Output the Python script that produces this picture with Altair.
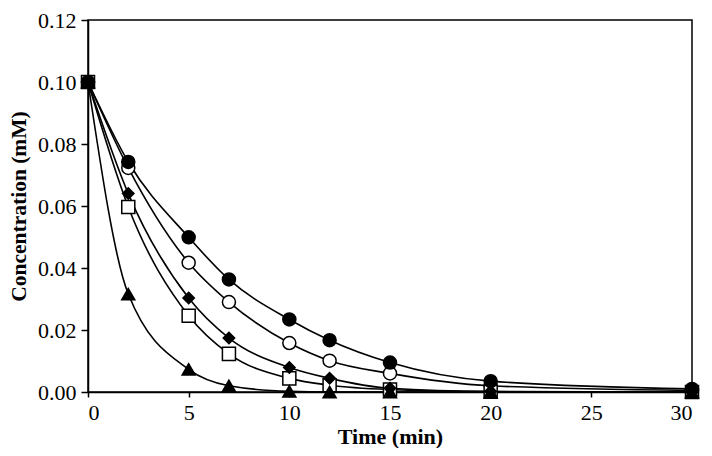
import altair as alt
import pandas as pd

time = [0, 2, 5, 7, 10, 12, 15, 20, 30]
s_fcircle = [0.100, 0.0742, 0.0499, 0.0363, 0.0234, 0.0167, 0.0095, 0.0035, 0.0010]
s_ocircle = [0.100, 0.0723, 0.0417, 0.0290, 0.0158, 0.0101, 0.0060, 0.0020, 0.0005]
s_diamond = [0.100, 0.0640, 0.0303, 0.0174, 0.0079, 0.0044, 0.0012, 0.0002, 0.0000]
s_square = [0.100, 0.0597, 0.0246, 0.0123, 0.0044, 0.0022, 0.0008, 0.0001, 0.0000]
s_triangle = [0.100, 0.0316, 0.0073, 0.0020, 0.0002, 0.0000, 0.0000, 0.0000, 0.0000]
x_ticks = [0, 5, 10, 15, 20, 25, 30]
y_ticks = [0, 0.02, 0.04, 0.06, 0.08, 0.10, 0.12]

series = [
    ("B", s_ocircle, "circle", "white"),
    ("D", s_square, "square", "white"),
    ("A", s_fcircle, "circle", "black"),
    ("C", s_diamond, "diamond", "black"),
    ("E", s_triangle, "triangle-up", "black"),
]

rows = []
for name, vals, shape, fill in series:
    for t, v in zip(time, vals):
        rows.append({"t": t, "c": v, "s": name})
df = pd.DataFrame(rows)

font = "Liberation Serif"
xs = alt.Scale(domain=[0, 30], nice=False)
ys = alt.Scale(domain=[0, 0.12], nice=False)

lines = alt.Chart(df).mark_line(color="black", strokeWidth=1.6, interpolate="monotone").encode(
    x=alt.X("t:Q", scale=xs, title="Time (min)",
            axis=alt.Axis(values=x_ticks, tickSize=5, tickWidth=1.5, labelPadding=5,
                          domainWidth=1.5, titlePadding=3, titleFontSize=22)),
    y=alt.Y("c:Q", scale=ys, title="Concentration (mM)",
            axis=alt.Axis(values=y_ticks, format=".2f",
                          tickSize=7, tickWidth=1.5, labelPadding=5, domainWidth=1.5,
                          titlePadding=7, titleFontSize=21.5)),
    detail="s:N",
)

layers = [lines]
for name, vals, shape, fill in series:
    sub = df[df.s == name]
    pts = alt.Chart(sub).mark_point(shape=shape, filled=True, fill=fill, stroke="black",
                                    strokeWidth=1.5, size=170 if shape != "diamond" else 130,
                                    opacity=1).encode(
        x=alt.X("t:Q", scale=xs), y=alt.Y("c:Q", scale=ys))
    layers.append(pts)

chart = alt.layer(*layers).properties(
    width=604, height=372,
    autosize=alt.AutoSizeParams(type="none"),
    padding={"left": 80, "top": 12, "right": 12, "bottom": 56},
).configure_view(stroke="black", strokeWidth=1.5).configure_axis(
    labelFont=font, titleFont=font, labelFontSize=22,
    labelColor="black", titleColor="black", domainColor="black", tickColor="black",
    titleFontWeight="bold", grid=False,
)

chart.save("out.html", embed_options={"renderer": "svg", "actions": False})
